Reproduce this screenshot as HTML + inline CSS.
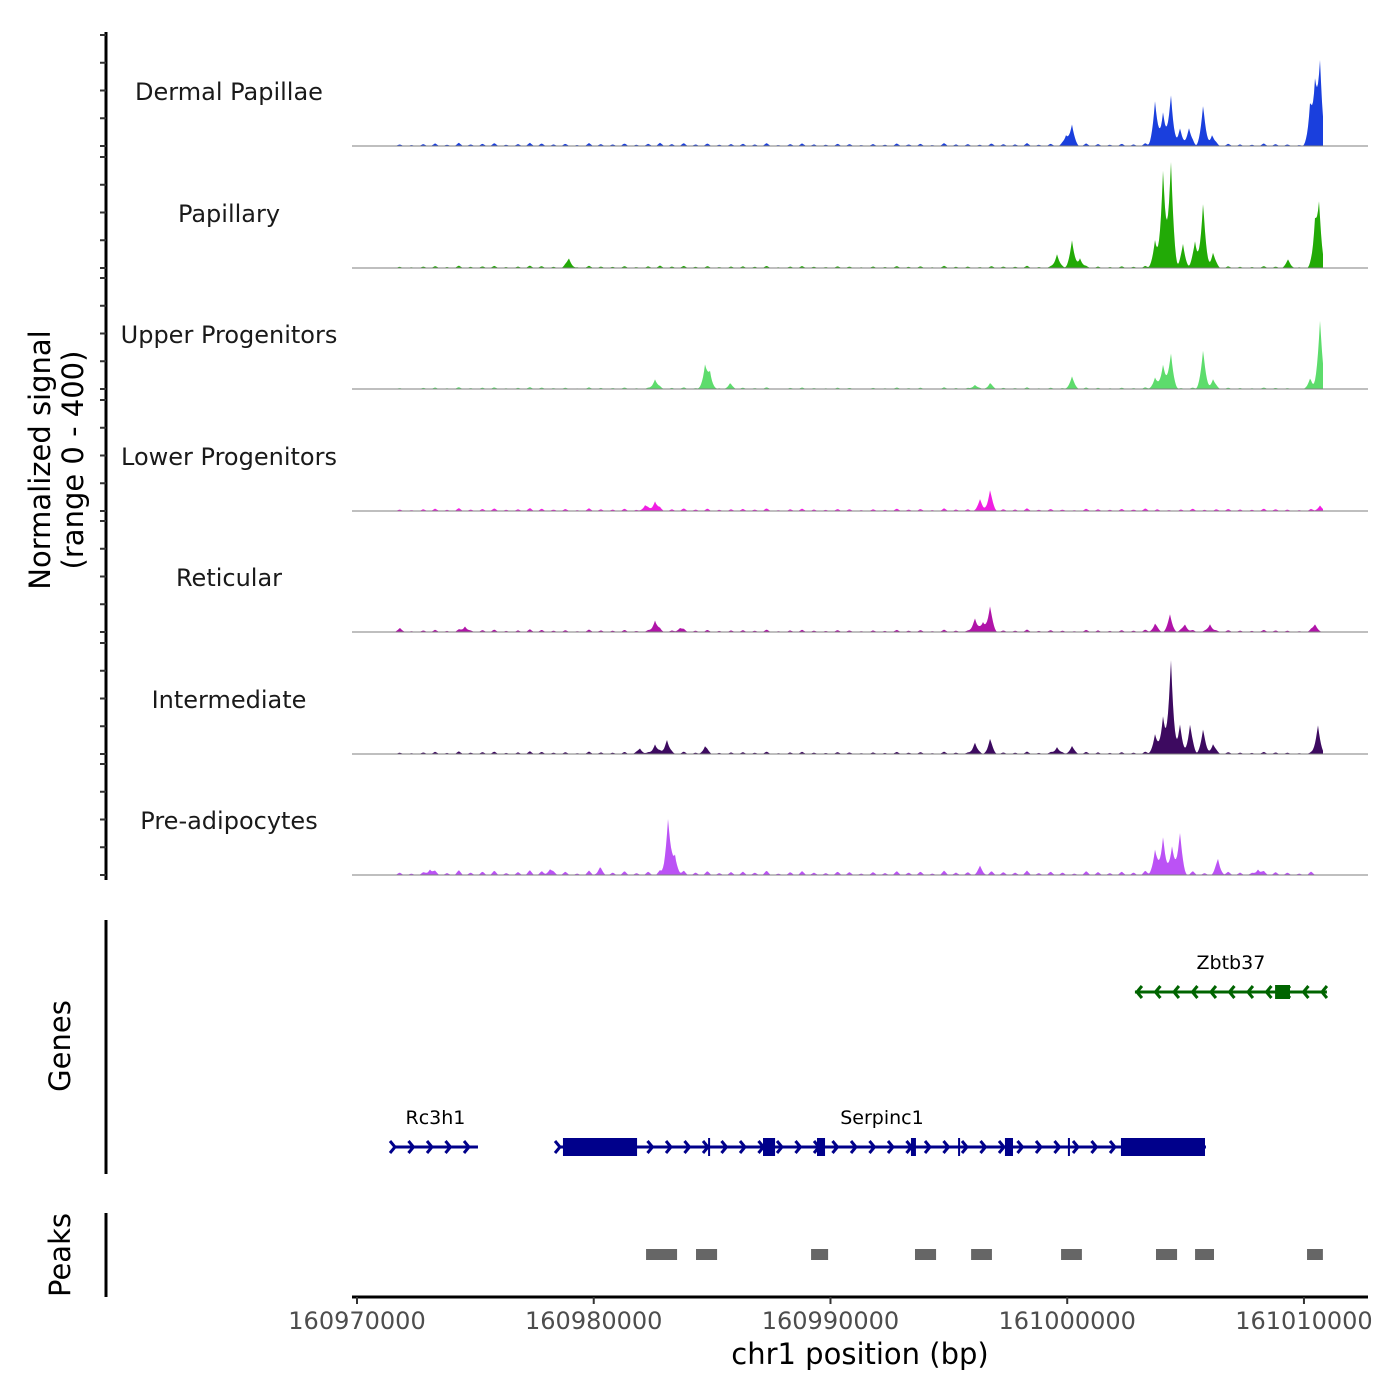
<!DOCTYPE html>
<html><head><meta charset="utf-8">
<style>
html,body{margin:0;padding:0;background:#fff;}
svg{display:block;font-family:"DejaVu Sans","Liberation Sans",sans-serif;}
</style></head>
<body>
<svg id="chart" width="1400" height="1400" viewBox="0 0 1400 1400" xmlns="http://www.w3.org/2000/svg">
<rect width="1400" height="1400" fill="#fff"/>
<g id="tracks"></g>
<g id="genes"></g>
<g id="peaks"></g>
<g id="axes"></g>
<text transform="translate(56,460) rotate(-90)" text-anchor="middle" font-size="29" fill="#000"><tspan x="0" dy="-6">Normalized signal</tspan><tspan x="0" dy="33">(range 0 - 400)</tspan></text>
<text transform="translate(70,1046) rotate(-90)" text-anchor="middle" font-size="29" fill="#000">Genes</text>
<text transform="translate(70,1255) rotate(-90)" text-anchor="middle" font-size="29" fill="#000">Peaks</text>
<text x="860" y="1364" text-anchor="middle" font-size="29" fill="#000">chr1 position (bp)</text>
</svg>
<script>
const trackNames = ["Dermal Papillae","Papillary","Upper Progenitors","Lower Progenitors","Reticular","Intermediate","Pre-adipocytes"];
const trackColors = ["#1a3fdd","#22aa06","#5ddc6c","#f01ee2","#b014a8","#3d0a60","#bb52f5"];
// peak positions (bp) and heights (0-400 normalized signal)
const dermalPos = [161000200,160999950,161003710,161004050,161004380,161004760,161005140,161005740,161006120,161010260,161010470,161010680];
const dermalVal = [75,35,160,125,185,60,65,145,40,130,200,290];
const papillaryPos = [160978950,160999570,161000200,161000540,161003710,161004050,161004380,161004890,161005400,161005740,161006160,161009330,161010470,161010640];
const papillaryVal = [35,50,100,35,100,360,390,85,95,235,55,28,140,215];
const upperPos = [160982590,160984700,160984910,160985760,160996100,160996740,161000200,161003710,161004050,161004380,161005740,161006160,161010260,161010680];
const upperVal = [35,80,55,18,15,18,45,40,90,130,140,35,35,250];
const lowerPos = [160982170,160982590,160996320,160996740,161010680];
const lowerVal = [20,35,40,70,20];
const reticularPos = [160971816,160974560,160982590,160983640,160996100,160996440,160996740,161003710,161004340,161004970,161006030,161010470];
const reticularVal = [10,20,42,14,50,35,88,28,62,28,28,28];
const intermediatePos = [160981950,160982590,160983090,160984700,160996100,160996740,160999570,161000200,161003710,161004050,161004380,161004760,161005190,161005740,161006160,161010590];
const intermediateVal = [20,35,52,25,42,50,25,28,70,140,345,105,105,88,35,105];
const preadipPos = [160973084,160978150,160980260,160983140,160983430,160996320,161003710,161004050,161004430,161004760,161006370,161008060];
const preadipVal = [20,20,20,205,70,28,88,140,105,148,52,20];
const trackPos = [dermalPos,papillaryPos,upperPos,lowerPos,reticularPos,intermediatePos,preadipPos];
const trackVal = [dermalVal,papillaryVal,upperVal,lowerVal,reticularVal,intermediateVal,preadipVal];
// background noise multipliers (hand-read), one per 500bp bin starting 160971800
const bgStart = 160971800;
const bgLevel = [0.5,0.3,0.6,0.8,0.4,1.0,0.5,0.7,0.9,0.4,0.6,1.0,0.8,0.5,0.7,0.3,0.9,0.6,0.5,0.8,0.4,0.7,1.0,0.6,0.9,0.5,0.8,0.4,0.6,0.7,0.5,0.9,0.3,0.6,0.8,0.5,0.4,0.7,0.6,0.3,
 0.6,0.4,0.8,0.5,0.7,0.3,0.9,0.5,0.6,0.4,0.8,0.6,0.5,0.9,0.4,0.7,0.5,0.3,0.8,0.6,0.4,0.7,0.5,0.9,0.6,0.3,0.5,0.8,0.4,0.6,0.7,0.5,0.4,0.8,0.6,0.5,0.3,0.7];
const bgAmp = [12,9,7,11,10,10,18];
const xTicks = [160970000,160980000,160990000,161000000,161010000];
const genes = [
 {name:"Rc3h1", start:160971520, end:160975110, strand:1, color:"#00008b", row:1, exons:[]},
 {name:"Serpinc1", start:160978490, end:161005860, strand:1, color:"#00008b", row:1,
  exons:[[160978700,160981830],[160984830,160984880],[160987150,160987660],[160989430,160989770],[160993400,160993610],[160995390,160995440],[160997370,160997710],[161000030,161000080],[161002270,161005820]]},
 {name:"Zbtb37", start:161002860, end:161010970, strand:-1, color:"#006400", row:0, exons:[[161008780,161009410]]}
];
const peakStarts = [160982210,160984320,160989180,160993570,160995940,160999740,161003750,161005400,161010130];
const peakEnds = [160983520,160985210,160989900,160994460,160996820,161000620,161004640,161006200,161010800];

const NS="http://www.w3.org/2000/svg";
const X0=357, PXBP=0.023674, PL=352, PR=1368;
const sx = bp => X0 + (bp-160970000)*PXBP;
const baselines=[146,268,389,511,632,754,875];
const vscale=111/400;
function mk(tag,attrs,parent){const e=document.createElementNS(NS,tag);for(const k in attrs)e.setAttribute(k,attrs[k]);parent.appendChild(e);return e;}

const tg=document.getElementById('tracks');
const sigEnd = sx(161010800), sigStart = sx(160971500);
for(let t=0;t<7;t++){
  const base=baselines[t];
  const g=mk('g',{},tg);
  
  
  const vals=[];
  for(let px=Math.floor(sigStart);px<=Math.ceil(sigEnd);px++){
    let v=0;
    for(let i=0;i<bgLevel.length;i++){
      const c=sx(bgStart+i*500), d=Math.abs(px-c);
      if(d<4) v=Math.max(v,bgLevel[i]*bgAmp[t]*(1-d/4));
    }
    const P=trackPos[t],V=trackVal[t];
    for(let i=0;i<P.length;i++){
      const d=Math.abs(px-sx(P[i]));
      if(d<8) v+=V[i]*Math.pow(1-d/8,2.2);
    }
    vals.push([px,Math.min(v,400)]);
  }
  let d='M'+vals[0][0]+','+base;
  for(const [px,v] of vals) d+=' L'+px+','+(base-v*vscale).toFixed(1);
  d+=' L'+vals[vals.length-1][0]+','+base+' Z';
  const p=mk('path',{d:d,fill:trackColors[t]},g);
  
  
  const ln=mk('line',{x1:PL,x2:PR,y1:base,y2:base,stroke:'#7f7f7f','stroke-width':1},g);
  
  
  const lb=mk('text',{x:229,y:base-46,'text-anchor':'middle','font-size':24,fill:'#1a1a1a'},g);
  lb.textContent=trackNames[t];
  
  
}

const ax=document.getElementById('axes');
function line(x1,y1,x2,y2,w,c,name){const l=mk('line',{x1,y1,x2,y2,stroke:c,'stroke-width':w},ax);return l;}
line(106,32,106,880,3,'#000','y-axis-line');
for(let t=0;t<7;t++){for(let k=0;k<=4;k++){const y=baselines[t]-k*100*vscale;line(100,y,106,y,2,'#333','y-tick');}}
line(106,920,106,1174,3,'#000','genes-axis-line');
line(106,1213,106,1297,3,'#000','peaks-axis-line');
line(352,1297,1368,1297,3,'#000','x-axis-line');
for(const v of xTicks){const x=sx(v);line(x,1297,x,1304,2,'#333','x-tick');
  const tx=mk('text',{x:x,y:1329,'text-anchor':'middle','font-size':24,fill:'#4d4d4d'},ax);tx.textContent=String(v);
  
  }

const gg=document.getElementById('genes');
const rowY=[992,1147];
for(const gn of genes){
  const y=rowY[gn.row];
  const g=mk('g',{},gg);
  
  
  const x1=sx(gn.start),x2=sx(gn.end);
  mk('line',{x1:x1,x2:x2,y1:y,y2:y,stroke:gn.color,'stroke-width':3},g);
  for(let x=x1+2;x<=x2;x+=18.5){
    const s=gn.strand*5;
    mk('polyline',{points:(x-s)+','+(y-6)+' '+x+','+y+' '+(x-s)+','+(y+6),fill:'none',stroke:gn.color,'stroke-width':3},g);
  }
  const eh=gn.row===0?14:18;
  for(const [a,b] of gn.exons){
    mk('rect',{x:sx(a),y:y-eh/2,width:Math.max(2,sx(b)-sx(a)),height:eh,fill:gn.color},g);
  }
  const tx=mk('text',{x:(x1+x2)/2,y:y-23,'text-anchor':'middle','font-size':19,fill:'#000'},g);
  tx.textContent=gn.name;
  
  
}
const pg=document.getElementById('peaks');
for(let i=0;i<peakStarts.length;i++){
  const r=mk('rect',{x:sx(peakStarts[i]),y:1249,width:sx(peakEnds[i])-sx(peakStarts[i]),height:11,fill:'#666'},pg);
  
  
}
</script>
</body></html>
